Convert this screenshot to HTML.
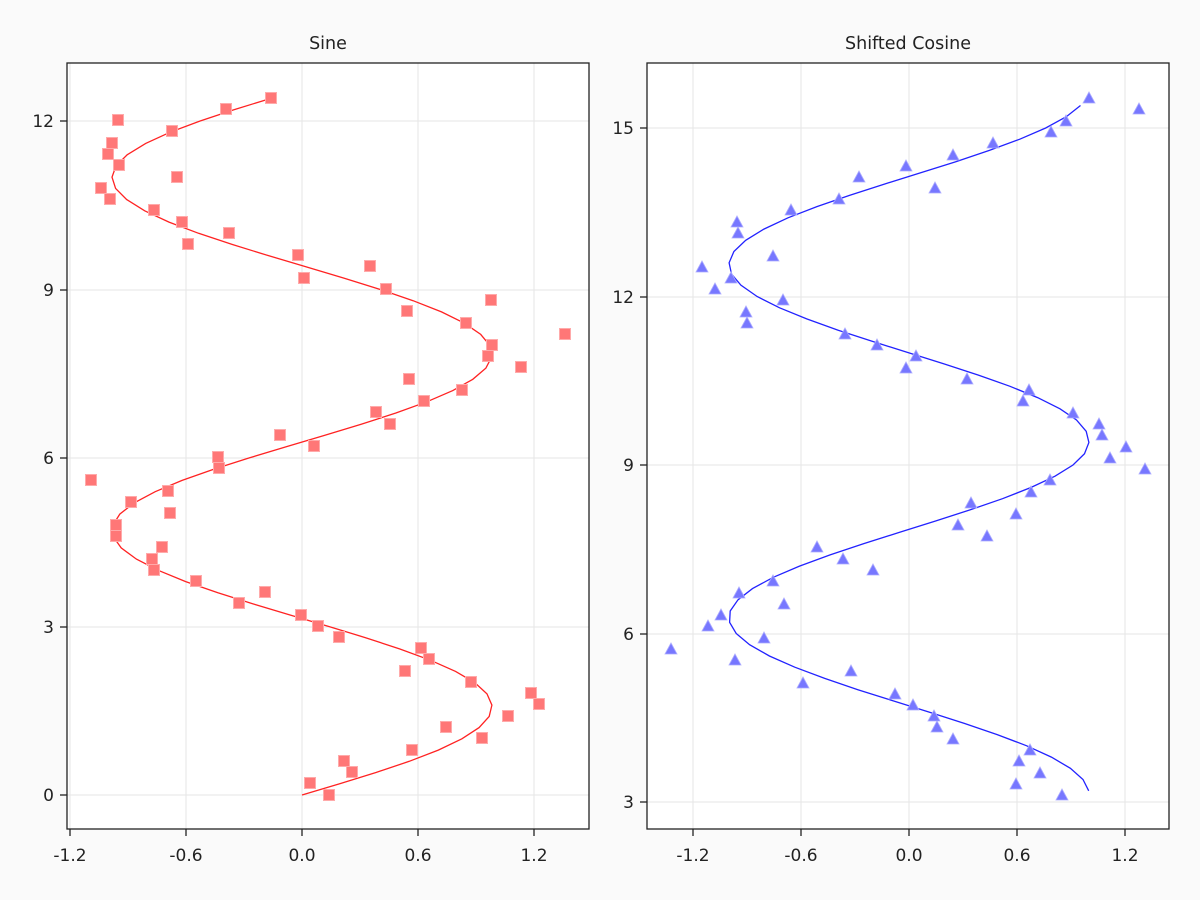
<!DOCTYPE html>
<html><head><meta charset="utf-8"><style>
html,body{margin:0;padding:0;background:#fafafa;}
svg{display:block;font-family:"DejaVu Sans","Liberation Sans",sans-serif;}
</style></head><body>
<svg id="s" width="1200" height="900" xmlns="http://www.w3.org/2000/svg">
<rect width="1200" height="900" fill="#fafafa"/>
<rect x="67" y="63" width="522" height="766" fill="#fff"/>
<rect x="647" y="63" width="522" height="766" fill="#fff"/>
<g id="g"></g>
<rect x="67" y="63" width="522" height="766" fill="none" stroke="#222" stroke-width="1.3"/>
<rect x="647" y="63" width="522" height="766" fill="none" stroke="#222" stroke-width="1.3"/>
<text x="328" y="49" font-size="17.5" text-anchor="middle" fill="#222">Sine</text>
<text x="908" y="49" font-size="17.5" text-anchor="middle" fill="#222">Shifted Cosine</text>
</svg>
<script>
var g=document.getElementById('g'),h='';
function L(x1,y1,x2,y2,c,w){h+='<line x1="'+x1+'" y1="'+y1+'" x2="'+x2+'" y2="'+y2+'" stroke="'+c+'" stroke-width="'+w+'"/>';}
function T(x,y,t,a){h+='<text x="'+x+'" y="'+y+'" font-size="17" fill="#222" text-anchor="'+a+'">'+t+'</text>';}
var xl=['-1.2','-0.6','0.0','0.6','1.2'];
var lx=[70,186,302,418,534],ly=[795,627,458,290,121],lyl=['0','3','6','9','12'];
lx.forEach(function(x,i){L(x,63,x,829,'#e6e6e6',1);L(x,829,x,836,'#222',1.3);T(x,861,xl[i],'middle');});
ly.forEach(function(y,i){L(67,y,589,y,'#e6e6e6',1);L(60,y,67,y,'#222',1.3);T(54,y+6,lyl[i],'end');});
var rx=[693,801,909,1017,1125],ry=[802,634,465,297,128],ryl=['3','6','9','12','15'];
rx.forEach(function(x,i){L(x,63,x,829,'#e6e6e6',1);L(x,829,x,836,'#222',1.3);T(x,861,xl[i],'middle');});
ry.forEach(function(y,i){L(647,y,1169,y,'#e6e6e6',1);L(640,y,647,y,'#222',1.3);T(634,y+6,ryl[i],'end');});
var p=[];for(var t=0;t<=12.41;t+=0.2){p.push((302+190*Math.sin(t)).toFixed(1)+','+(795-56.17*t).toFixed(1));}
h+='<polyline points="'+p.join(' ')+'" fill="none" stroke="#f22" stroke-width="1.3"/>';
p=[];for(var t=3.2;t<=15.51;t+=0.2){p.push((909-180*Math.cos(t)).toFixed(1)+','+(802-56.17*(t-3)).toFixed(1));}
h+='<polyline points="'+p.join(' ')+'" fill="none" stroke="#22f" stroke-width="1.3"/>';
var S=[[271,98],[226,109],[118,120],[172,131],[112,143],[108,154],[119,165],[177,177],[101,188],[110,199],[154,210],[182,222],[229,233],[188,244],[298,255],[370,266],[304,278],[386,289],[491,300],[407,311],[466,323],[565,334],[492,345],[488,356],[521,367],[409,379],[462,390],[424,401],[376,412],[390,424],[280,435],[314,446],[218,457],[219,468],[91,480],[168,491],[131,502],[170,513],[116,525],[116,536],[162,547],[152,559],[154,570],[196,581],[265,592],[239,603],[301,615],[318,626],[339,637],[421,648],[429,659],[405,671],[471,682],[531,693],[539,704],[508,716],[446,727],[482,738],[412,750],[344,761],[352,772],[310,783],[329,795]];
S.forEach(function(q){h+='<rect x="'+(q[0]-5.5)+'" y="'+(q[1]-5.5)+'" width="11" height="11" fill="#ff7777" stroke="#ffaaaa" stroke-width="1"/>';});
var R=[[1089,98],[1139,109],[1066,121],[1051,132],[993,143],[953,155],[906,166],[859,177],[935,188],[839,199],[791,210],[737,222],[738,233],[773,256],[702,267],[731,278],[715,289],[783,300],[746,312],[747,323],[845,334],[877,345],[916,356],[906,368],[967,379],[1029,390],[1023,401],[1073,413],[1099,424],[1102,435],[1126,447],[1110,458],[1145,469],[1050,480],[1031,492],[971,503],[1016,514],[958,525],[987,536],[817,547],[843,559],[873,570],[773,581],[739,593],[784,604],[721,615],[708,626],[764,638],[671,649],[735,660],[851,671],[803,683],[895,694],[913,705],[934,716],[937,727],[953,739],[1030,750],[1019,761],[1040,773],[1016,784],[1062,795]];
R.forEach(function(q){var x=q[0],y=q[1];h+='<polygon points="'+x+','+(y-6)+' '+(x-6)+','+(y+5)+' '+(x+6)+','+(y+5)+'" fill="#7777ff" stroke="#aaaaff" stroke-width="0.8"/>';});
g.innerHTML=h;
</script>
</body></html>
